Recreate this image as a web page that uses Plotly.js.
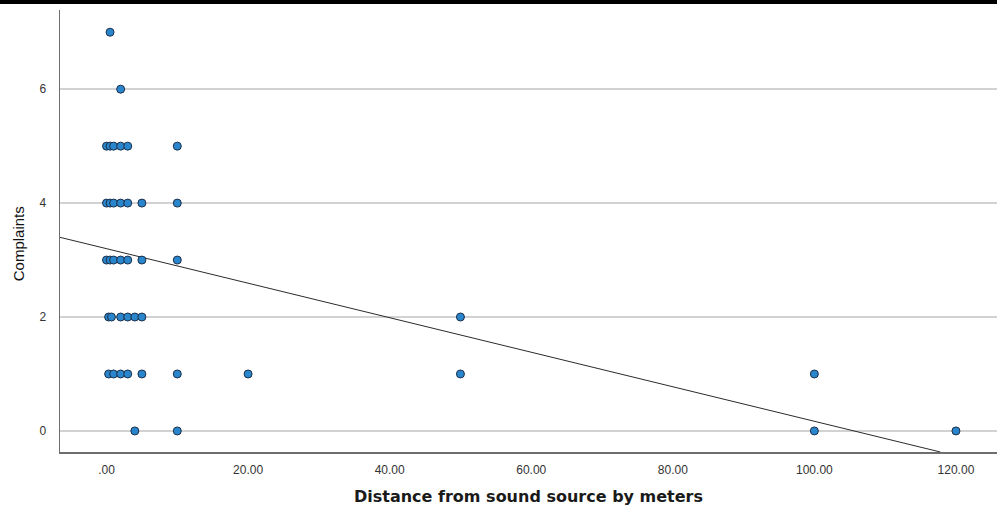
<!DOCTYPE html>
<html>
<head>
<meta charset="utf-8">
<script src="https://cdn.plot.ly/plotly-3.0.1.min.js"></script>
<style>
html,body{margin:0;padding:0;background:#fff;}
#topbar{position:absolute;left:0;top:0;width:997px;height:4px;background:#000;z-index:5;}
#chart{width:997px;height:506px;}
</style>
</head>
<body>
<div id="topbar"></div>
<div id="chart"></div>
<script>
// Observed points (distance in meters, number of complaints)
const distance = [
  0.5,
  2,
  0, 0.5, 1, 2, 3, 10,
  0, 0.5, 1, 2, 3, 5, 10,
  0, 0.5, 1, 2, 3, 5, 10,
  0.3, 0.7, 2, 3, 4, 5, 50,
  0.3, 1, 2, 3, 5, 10, 20, 50, 100,
  4, 10, 100, 120
];
const complaints = [
  7,
  6,
  5, 5, 5, 5, 5, 5,
  4, 4, 4, 4, 4, 4, 4,
  3, 3, 3, 3, 3, 3, 3,
  2, 2, 2, 2, 2, 2, 2,
  1, 1, 1, 1, 1, 1, 1, 1, 1,
  0, 0, 0, 0
];
// Fit line endpoints
const fitX = [-6.6, 117.8];
const fitY = [3.40, -0.37];
// Axis ticks
const xTickVals = [0, 20, 40, 60, 80, 100, 120];
const xTickText = ['.00', '20.00', '40.00', '60.00', '80.00', '100.00', '120.00'];
const yTickVals = [0, 2, 4, 6];
const yTickText = ['0', '2', '4', '6'];
const xTitle = 'Distance from sound source by meters';
const yTitle = 'Complaints';

const traces = [
  {
    x: fitX, y: fitY, type: 'scatter', mode: 'lines',
    line: {color: '#2b2b2b', width: 1},
    hoverinfo: 'skip', showlegend: false
  },
  {
    x: distance, y: complaints, type: 'scatter', mode: 'markers',
    marker: {color: '#2a86cc', size: 8, line: {color: '#1c2f4a', width: 1}},
    cliponaxis: false, showlegend: false
  }
];

const layout = {
  width: 997, height: 506,
  margin: {l: 60, r: 0, t: 10, b: 54},
  paper_bgcolor: '#fff', plot_bgcolor: '#fff',
  showlegend: false,
  font: {family: 'Liberation Sans, Arial, sans-serif', color: '#333'},
  xaxis: {
    range: [-6.57, 125.8],
    tickvals: xTickVals, ticktext: xTickText,
    showgrid: false, zeroline: false,
    showline: true, linecolor: '#6e6e6e', linewidth: 1.5,
    ticks: '', ticklabelstandoff: 6,
    tickfont: {size: 12, color: '#333'},
    title: {text: xTitle,
            font: {size: 16, color: '#1a1a1a', family: 'DejaVu Sans, Verdana, sans-serif', weight: 'bold'}},
    fixedrange: true
  },
  yaxis: {
    range: [-0.37, 7.39],
    tickvals: yTickVals, ticktext: yTickText,
    showgrid: true, gridcolor: '#d2d2d2', gridwidth: 1.5,
    zeroline: false,
    showline: true, linecolor: '#6e6e6e', linewidth: 1.5,
    ticks: '', ticklabelstandoff: 10,
    tickfont: {size: 12, color: '#333'},
    fixedrange: true
  },
  annotations: [{
    text: yTitle, xref: 'paper', yref: 'paper',
    x: -0.0448, y: 0.47, xanchor: 'center', yanchor: 'middle',
    textangle: -90, showarrow: false,
    font: {size: 15, color: '#111', family: 'Liberation Sans, Arial, sans-serif'}
  }]
};

Plotly.newPlot('chart', traces, layout, {displayModeBar: false, staticPlot: true});
</script>
</body>
</html>
